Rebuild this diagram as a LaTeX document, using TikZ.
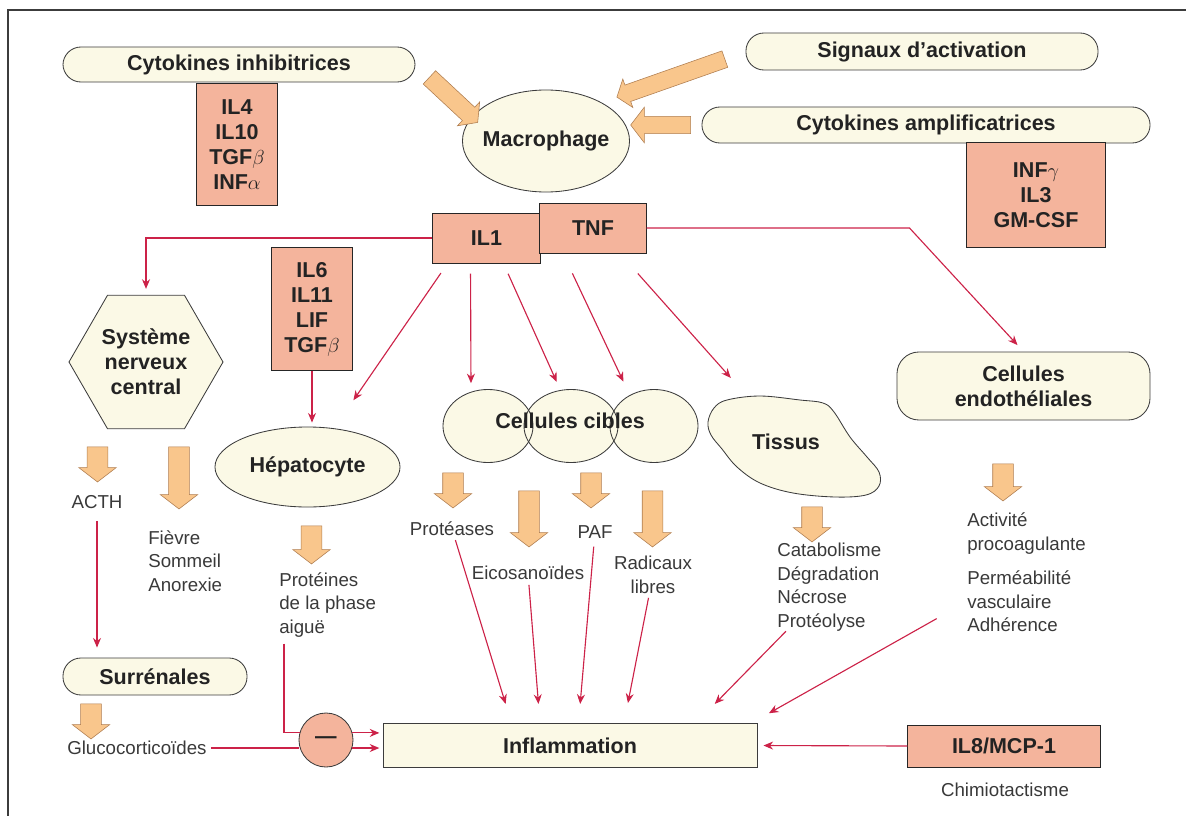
\documentclass[tikz,border=0pt]{standalone}
\usepackage{fontspec}
\setmainfont{Liberation Sans}
\usepackage{tikz}
\usetikzlibrary{shapes.geometric, shapes.arrows, arrows.meta, calc}

\definecolor{cream}{RGB}{251,249,230}
\definecolor{salmon}{RGB}{244,180,156}
\definecolor{orangefill}{RGB}{249,198,140}
\definecolor{orangeedge}{RGB}{175,125,80}
\definecolor{arrowred}{RGB}{204,34,72}
\definecolor{edgegray}{RGB}{60,60,60}
\definecolor{textgray}{RGB}{35,35,35}

\newcommand{\labfont}{\fontsize{15.3}{17.8}\selectfont\bfseries}
\newcommand{\txtfont}{\fontsize{13.3}{16.7}\selectfont}

\tikzstyle{pill} = [rectangle, rounded corners=0.45cm, draw=edgegray, line width=0.6pt, fill=cream, text=textgray, font=\labfont, inner sep=0pt]
\tikzstyle{panel} = [rectangle, draw=edgegray, line width=0.6pt, fill=cream, text=textgray, font=\labfont, inner sep=0pt]
\tikzstyle{cytobox} = [rectangle, draw=black!85, line width=0.7pt, fill=salmon, text=textgray, font=\labfont, align=center, inner sep=0pt]
\tikzstyle{cell} = [ellipse, draw=edgegray, line width=0.6pt, fill=cream, text=textgray, font=\labfont, inner sep=0pt]
\tikzstyle{cellfill} = [ellipse, fill=cream, inner sep=0pt]
\tikzstyle{txt} = [text=textgray!90, font=\txtfont, align=left, inner sep=0pt]
\tikzstyle{bigarrow} = [single arrow, draw=orangeedge, line width=0.4pt, fill=orangefill, inner xsep=0pt, inner ysep=0.25cm, single arrow head extend=0.2125cm, single arrow tip angle=105]
\tikzstyle{redarrow} = [draw=arrowred, line width=0.8pt, -{Stealth[length=0.24cm, width=0.2cm]}]
\tikzstyle{redplain} = [draw=arrowred, line width=0.8pt]

\begin{document}
\begin{tikzpicture}[x=0.025cm, y=-0.025cm]
	\useasboundingbox (0,0) rectangle (1186,816);
	\draw[edgegray, line width=1.2pt] (8,816) -- (8,10) -- (1186,10);

	% haut : macrophage et signaux
	\node (inhib) [pill, minimum width=8.8cm, minimum height=0.875cm] at (239,64.5) {Cytokines inhibitrices};
	\node (il4) [cytobox, minimum width=2cm, minimum height=3.025cm] at (237,144.5) {IL4\\IL10\\TGF$\beta$\\INF$\alpha$};
	\node (macro) [cell, inner xsep=-0.3cm, minimum width=4.175cm, minimum height=2.55cm] at (546,141) {Macrophage};
	\node (signaux) [pill, minimum width=8.8cm, minimum height=0.925cm] at (922,51.5) {Signaux d'activation};
	\node (amplif) [pill, minimum width=11.2cm, minimum height=0.9cm] at (926,125) {Cytokines amplificatrices};
	\node (infg) [cytobox, minimum width=3.45cm, minimum height=2.6cm] at (1036,195) {INF$\gamma$\\IL3\\GM-CSF};
	\node (ainhib) [bigarrow, inner ysep=0.22cm, single arrow head extend=0.18cm, minimum height=1.65cm, rotate=-43] at (451,97.5) {};
	\node (asignaux) [bigarrow, inner ysep=0.21cm, single arrow head extend=0.16cm, minimum height=2.86cm, rotate=199.4] at (674,77) {};
	\node (aamplif) [bigarrow, inner ysep=0.21cm, single arrow head extend=0.23cm, minimum height=1.5cm, rotate=180] at (664,125) {};

	\node (il1) [cytobox, minimum width=2.675cm, minimum height=1.25cm] at (486.5,238) {IL1};
	\node (tnf) [cytobox, minimum width=2.65cm, minimum height=1.25cm] at (593,228) {TNF};

	% milieu : cibles
	\node (snc) [regular polygon, regular polygon sides=6, draw=edgegray, line width=0.6pt, fill=cream, text=textgray, font=\labfont, align=center, inner sep=0pt, minimum size=3.85cm] at (146,362) {Système\\nerveux\\central};
	\node (il6) [cytobox, minimum width=2cm, minimum height=3.05cm] at (312,309) {IL6\\IL11\\LIF\\TGF$\beta$};
	\node (hep) [cell, minimum width=4.625cm, minimum height=2cm] at (307.5,467) {Hépatocyte};
	\node (cc1) [cellfill, minimum width=2.25cm, minimum height=1.825cm] at (488,426) {};
	\node (cc2) [cellfill, minimum width=2.35cm, minimum height=1.825cm] at (571,426) {};
	\node (cc3) [cellfill, minimum width=2.2cm, minimum height=1.825cm] at (654,426) {};
	\draw[edgegray, line width=0.6pt] (cc1.center) ellipse [x radius=1.125cm, y radius=0.9125cm];
	\draw[edgegray, line width=0.6pt] (cc2.center) ellipse [x radius=1.175cm, y radius=0.9125cm];
	\draw[edgegray, line width=0.6pt] (cc3.center) ellipse [x radius=1.1cm, y radius=0.9125cm];
	\node (cibles) [text=textgray, font=\labfont] at (570,421) {Cellules cibles};
	\draw[edgegray, line width=0.6pt, fill=cream] plot[smooth cycle, tension=0.6] coordinates {(708,422) (714,408) (727,400) (760,396) (800,400) (823,403) (834,412) (850,437) (867,457) (879,472) (879,486) (866,495) (835,497) (793,493) (760,483) (737,467) (722,449) (711,435)};
	\node (tis) [text=textgray, font=\labfont] at (786,442) {Tissus};
	\node (endo) [pill, rounded corners=0.55cm, align=center, minimum width=6.325cm, minimum height=1.7cm] at (1023.5,386) {Cellules\\endothéliales};

	% fleches larges
	\node (aacth) [bigarrow, minimum height=0.875cm, rotate=-90] at (97.5,460.5) {};
	\node (afievre) [bigarrow, minimum height=1.55cm, rotate=-90] at (179,474) {};
	\node (ahep) [bigarrow, minimum height=0.95cm, rotate=-90] at (311.5,541) {};
	\node (aproteases) [bigarrow, minimum height=0.875cm, rotate=-90] at (453,486.5) {};
	\node (aeicos) [bigarrow, minimum height=1.4cm, rotate=-90] at (529,515) {};
	\node (apaf) [bigarrow, minimum height=0.875cm, rotate=-90] at (591,486.5) {};
	\node (aradic) [bigarrow, minimum height=1.4cm, rotate=-90] at (652.5,515) {};
	\node (atis) [bigarrow, minimum height=0.875cm, rotate=-90] at (812,520.5) {};
	\node (aendo) [bigarrow, minimum height=0.925cm, rotate=-90] at (1003,478.5) {};
	\node (asurr) [bigarrow, minimum height=0.875cm, rotate=-90] at (91,717.5) {};

	% effets
	\node (acth) [txt] at (97,502) {ACTH};
	\node (fievre) [txt, anchor=west] at (148,561) {Fièvre\\Sommeil\\Anorexie};
	\node (prot) [txt, anchor=west] at (279,605) {Protéines\\de la phase\\aiguë};
	\node (proteases) [txt] at (452,529) {Protéases};
	\node (eicos) [txt] at (528,573) {Eicosanoïdes};
	\node (paf) [txt] at (595,532) {PAF};
	\node (radic) [txt, align=center] at (653,575) {Radicaux\\libres};
	\node (catab) [txt, anchor=west] at (777,587) {Catabolisme\\Dégradation\\Nécrose\\Protéolyse};
	\node (activ) [txt, anchor=west] at (967,533.5) {Activité\\procoagulante};
	\node (perm) [txt, anchor=west] at (967,601.5) {Perméabilité\\vasculaire\\Adhérence};

	% bas
	\node (surr) [pill, minimum width=4.6cm, minimum height=0.925cm] at (155,676.5) {Surrénales};
	\node (gluco) [txt, anchor=west] at (67,748) {Glucocorticoïdes};
	\node (minus) [circle, draw=edgegray, line width=0.6pt, fill=salmon, text=textgray, font=\labfont, minimum size=1.35cm, inner sep=0pt] at (326,740) {—};
	\node (infl) [panel, minimum width=9.35cm, minimum height=1.1cm] at (570,745.5) {Inflammation};
	\node (il8) [cytobox, minimum width=4.8cm, minimum height=1.05cm] at (1004,746) {IL8/MCP-1};
	\node (chimio) [txt] at (1005,790) {Chimiotactisme};

	\draw [redarrow, shorten >=0.15cm] (il1.west) -| (snc.north);
	\draw [redarrow, shorten >=0.1cm] (il6.south) -- (il6.south |- hep.north);
	\draw [redarrow, shorten <=0.29cm, shorten >=0.85cm] ($(il1.south)+(-39,0)$) -- (hep);
	\draw [redarrow, shorten <=0.25cm, shorten >=0.15cm] ($(il1.south)+(-16,0)$) -- ($(cc1.north)+(-17,0)$);
	\draw [redarrow, shorten <=0.28cm, shorten >=0.2cm] ($(il1.south)+(17,0)$) -- ($(cc2.north)+(-11,0)$);
	\draw [redarrow, shorten <=0.55cm, shorten >=0.21cm] ($(tnf.south)+(-30,0)$) -- ($(cc3.north)+(-27,0)$);
	\draw [redarrow, shorten <=0.67cm, shorten >=0.57cm] ($(tnf.south)+(27,0)$) -- ($(tis)+(-40,-47)$);
	\draw [redarrow, shorten >=0.22cm] (tnf.east) -- ++(263,0) -- (endo.north);
	\draw [redarrow, shorten <=0.3cm, shorten >=0.25cm] (acth) -- (acth |- surr.north);

	\draw [redplain, shorten <=0.15cm] ($(prot.south west)+(5,0)$) |- (minus.165);
	\draw [redplain, shorten <=0.1cm] (gluco.east) -- (gluco.east -| minus.west);
	\draw [redarrow, shorten >=0.08cm] (minus.15) -- (minus.15 -| infl.west);
	\draw [redarrow, shorten >=0.08cm] (minus.-17) -- (minus.-17 -| infl.west);

	\draw [redarrow, shorten <=0.1cm, shorten >=0.5cm] (proteases) -- ($(infl.north)+(-58.5,0)$);
	\draw [redarrow, shorten <=0.12cm, shorten >=0.48cm] (eicos) -- ($(infl.north)+(-30,0)$);
	\draw [redarrow, shorten <=0.2cm, shorten >=0.48cm] (paf) -- ($(infl.north)+(8.5,0)$);
	\draw [redarrow, shorten <=0.1cm, shorten >=0.51cm] (radic) -- ($(infl.north)+(54,0)$);
	\draw [redarrow, shorten >=0.67cm] (catab) -- ($(infl.north)+(126,0)$);
	\draw [redarrow, shorten <=0.87cm, shorten >=0.5cm] (perm.west) -- ($(infl.north east)+(-6,0)$);
	\draw [redarrow, shorten >=0.15cm] (il8.west) -- (infl.east);
\end{tikzpicture}
\end{document}
